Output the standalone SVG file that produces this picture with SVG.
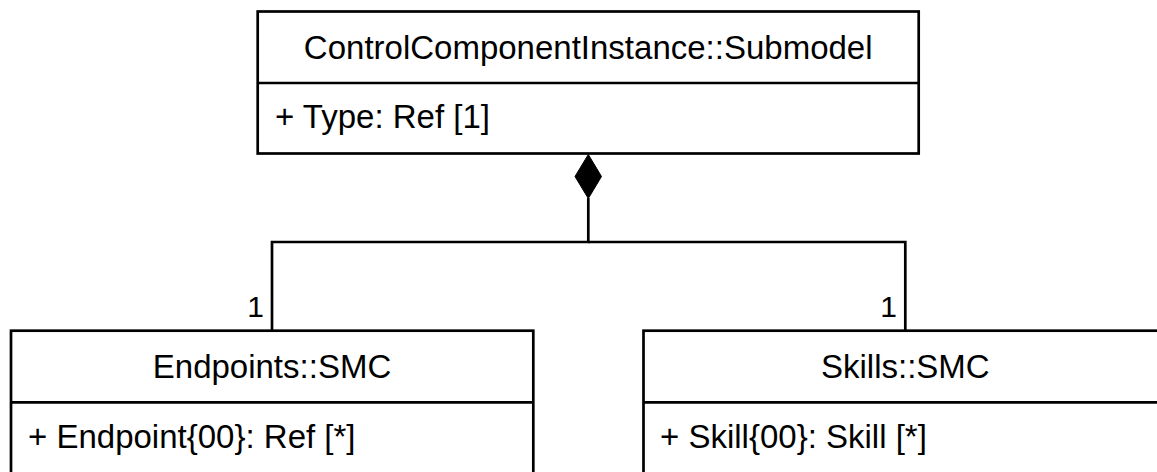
<svg xmlns="http://www.w3.org/2000/svg" width="1157" height="472" viewBox="0 0 1157 472">
  <style>
    .box { fill: #ffffff; stroke: #000000; stroke-width: 2.7; }
    .div { stroke: #000000; stroke-width: 2.7; fill: none; }
    .conn { stroke: #000000; stroke-width: 2.7; fill: none; }
    .title { font-family: "Liberation Sans", Arial, sans-serif; font-size: 33px; fill: #000000; text-anchor: middle; }
    .attr { font-family: "Liberation Sans", Arial, sans-serif; font-size: 33px; fill: #000000; text-anchor: start; }
    .mult { font-family: "Liberation Sans", Arial, sans-serif; font-size: 30px; fill: #000000; text-anchor: end; }
  </style>
  <rect x="0" y="0" width="1157" height="472" fill="#ffffff"/>

  <g id="connectors">
    <polygon points="588.3,154.5 601.5,176.5 588.3,198.5 575,176.5" fill="#000000" stroke="#000000" stroke-width="1"/>
    <polyline class="conn" points="588.3,198 588.3,242 272,242 272,330.7"/>
    <polyline class="conn" points="588.3,242 905.3,242 905.3,330.7"/>
    <text class="mult" x="264" y="317">1</text>
    <text class="mult" x="897" y="317">1</text>
  </g>

  <g id="node-controlcomponentinstance">
    <rect class="box" x="257.7" y="11.5" width="661" height="142"/>
    <line class="div" x1="257.7" y1="83" x2="918.7" y2="83"/>
    <text class="title" x="588.2" y="59">ControlComponentInstance::Submodel</text>
    <text class="attr" x="275" y="128">+ Type: Ref [1]</text>
  </g>

  <g id="node-endpoints">
    <rect class="box" x="11" y="330.7" width="522.3" height="143"/>
    <line class="div" x1="11" y1="402.3" x2="533.3" y2="402.3"/>
    <text class="title" x="272" y="378">Endpoints::SMC</text>
    <text class="attr" x="28" y="448">+ Endpoint{00}: Ref [*]</text>
  </g>

  <g id="node-skills">
    <rect class="box" x="643.5" y="330.7" width="524" height="143"/>
    <line class="div" x1="643.5" y1="402.3" x2="1167.5" y2="402.3"/>
    <text class="title" x="905.3" y="378">Skills::SMC</text>
    <text class="attr" x="660" y="448">+ Skill{00}: Skill [*]</text>
  </g>
</svg>
